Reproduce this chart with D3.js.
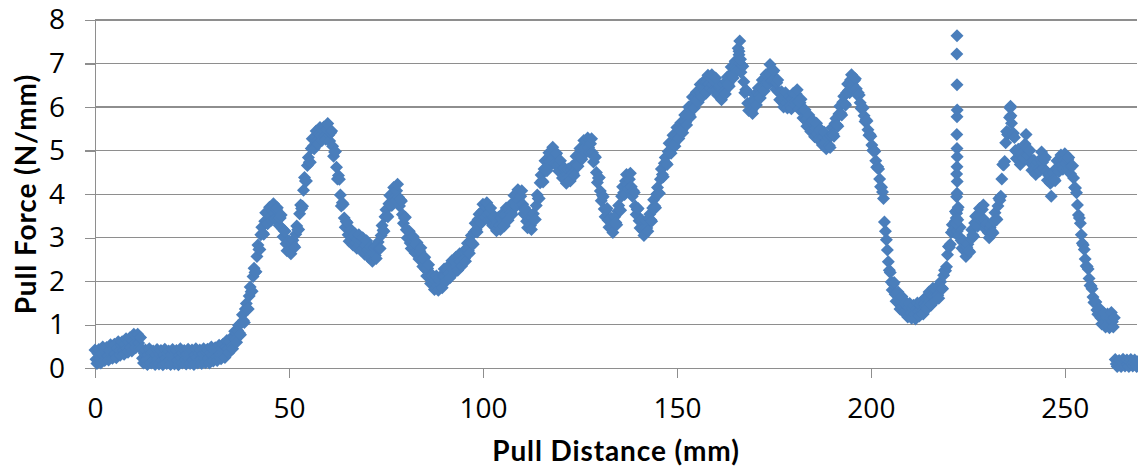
<!DOCTYPE html>
<html>
<head>
<meta charset="utf-8">
<script src="https://cdn.jsdelivr.net/npm/d3@7"></script>
<style>
  html, body { margin: 0; padding: 0; background: #fff; }
  svg { display: block; }
</style>
</head>
<body>
<svg id="chart" width="1138" height="472"></svg>
<script>
// Peel test: pull force per unit width against pull distance.
// Logger samples every 0.25 mm, starting at 0 mm (16 readings per row = 4 mm).
const sampleStartMm = 0;
const sampleStepMm = 0.25;
const pullForce = [
  0.42, 0.21, 0.11, 0.34, 0.43, 0.21, 0.12, 0.34, 0.49, 0.29, 0.18, 0.41, 0.48, 0.28, 0.19, 0.41,
  0.54, 0.33, 0.23, 0.46, 0.55, 0.33, 0.24, 0.46, 0.61, 0.41, 0.30, 0.54, 0.61, 0.41, 0.32, 0.55,
  0.68, 0.47, 0.37, 0.61, 0.70, 0.48, 0.40, 0.63, 0.78, 0.58, 0.47, 0.71, 0.78, 0.58, 0.48, 0.71,
  0.45, 0.23, 0.12, 0.34, 0.42, 0.19, 0.09, 0.31, 0.45, 0.24, 0.12, 0.35, 0.40, 0.19, 0.09, 0.31,
  0.43, 0.21, 0.10, 0.33, 0.41, 0.18, 0.08, 0.30, 0.44, 0.23, 0.11, 0.34, 0.40, 0.19, 0.09, 0.31,
  0.43, 0.21, 0.10, 0.33, 0.41, 0.18, 0.08, 0.30, 0.45, 0.24, 0.12, 0.35, 0.41, 0.20, 0.10, 0.32,
  0.44, 0.22, 0.11, 0.34, 0.42, 0.19, 0.09, 0.31, 0.45, 0.24, 0.12, 0.35, 0.42, 0.21, 0.11, 0.33,
  0.45, 0.23, 0.13, 0.36, 0.44, 0.22, 0.12, 0.35, 0.49, 0.29, 0.17, 0.41, 0.47, 0.27, 0.18, 0.40,
  0.53, 0.32, 0.22, 0.46, 0.55, 0.34, 0.25, 0.49, 0.64, 0.45, 0.36, 0.61, 0.69, 0.51, 0.45, 0.70,
  0.85, 0.67, 0.60, 0.87, 0.99, 0.81, 0.77, 1.04, 1.23, 1.10, 1.05, 1.36, 1.49, 1.37, 1.36, 1.66,
  1.87, 1.76, 1.77, 2.11, 2.30, 2.20, 2.22, 2.57, 2.83, 2.73, 2.73, 3.07, 3.24, 3.11, 3.08, 3.38,
  3.57, 3.39, 3.32, 3.58, 3.70, 3.48, 3.40, 3.63, 3.78, 3.56, 3.43, 3.64, 3.69, 3.43, 3.28, 3.45,
  3.52, 3.21, 3.02, 3.16, 3.15, 2.86, 2.70, 2.85, 2.93, 2.73, 2.63, 2.87, 2.94, 2.81, 2.78, 3.08,
  3.27, 3.18, 3.19, 3.55, 3.75, 3.67, 3.72, 4.09, 4.38, 4.30, 4.30, 4.66, 4.84, 4.73, 4.73, 5.05,
  5.27, 5.10, 5.04, 5.32, 5.45, 5.23, 5.15, 5.38, 5.53, 5.33, 5.23, 5.47, 5.54, 5.34, 5.26, 5.49,
  5.62, 5.36, 5.22, 5.41, 5.45, 5.10, 4.87, 4.97, 4.98, 4.62, 4.35, 4.43, 4.34, 3.98, 3.73, 3.80,
  3.77, 3.45, 3.24, 3.37, 3.35, 3.07, 2.92, 3.09, 3.18, 2.96, 2.83, 3.04, 3.09, 2.87, 2.76, 2.96,
  3.07, 2.84, 2.72, 2.93, 3.00, 2.75, 2.62, 2.82, 2.93, 2.70, 2.55, 2.76, 2.79, 2.57, 2.46, 2.66,
  2.77, 2.59, 2.52, 2.78, 2.90, 2.76, 2.75, 3.05, 3.28, 3.17, 3.15, 3.48, 3.64, 3.51, 3.48, 3.78,
  3.97, 3.80, 3.74, 4.02, 4.15, 3.93, 3.85, 4.08, 4.23, 3.93, 3.73, 3.87, 3.84, 3.53, 3.33, 3.45,
  3.47, 3.18, 2.99, 3.15, 3.15, 2.88, 2.75, 2.93, 3.03, 2.80, 2.65, 2.86, 2.89, 2.64, 2.51, 2.69,
  2.77, 2.50, 2.34, 2.52, 2.55, 2.27, 2.12, 2.29, 2.38, 2.12, 1.95, 2.13, 2.14, 1.92, 1.81, 2.01,
  2.12, 1.90, 1.79, 2.02, 2.10, 1.91, 1.85, 2.10, 2.28, 2.10, 2.00, 2.26, 2.34, 2.16, 2.08, 2.33,
  2.47, 2.28, 2.19, 2.45, 2.55, 2.33, 2.25, 2.48, 2.63, 2.45, 2.35, 2.61, 2.69, 2.52, 2.46, 2.71,
  2.87, 2.70, 2.64, 2.92, 3.05, 2.88, 2.85, 3.13, 3.33, 3.18, 3.13, 3.42, 3.54, 3.38, 3.33, 3.60,
  3.77, 3.56, 3.47, 3.71, 3.80, 3.53, 3.40, 3.58, 3.68, 3.43, 3.28, 3.47, 3.49, 3.27, 3.16, 3.36,
  3.47, 3.28, 3.19, 3.45, 3.55, 3.35, 3.27, 3.52, 3.68, 3.50, 3.40, 3.66, 3.74, 3.58, 3.53, 3.80,
  3.97, 3.79, 3.72, 3.98, 4.10, 3.86, 3.75, 3.95, 4.08, 3.77, 3.55, 3.68, 3.64, 3.38, 3.23, 3.40,
  3.47, 3.28, 3.19, 3.45, 3.55, 3.42, 3.42, 3.74, 3.98, 3.90, 3.90, 4.26, 4.44, 4.31, 4.28, 4.58,
  4.77, 4.60, 4.54, 4.82, 4.95, 4.75, 4.67, 4.92, 5.08, 4.85, 4.70, 4.91, 4.94, 4.68, 4.53, 4.70,
  4.77, 4.51, 4.37, 4.56, 4.60, 4.36, 4.25, 4.45, 4.58, 4.40, 4.30, 4.56, 4.64, 4.48, 4.43, 4.70,
  4.87, 4.70, 4.64, 4.92, 5.05, 4.86, 4.80, 5.05, 5.23, 5.05, 4.95, 5.21, 5.29, 5.07, 4.96, 5.16,
  5.27, 4.95, 4.74, 4.87, 4.85, 4.50, 4.27, 4.37, 4.38, 4.07, 3.85, 3.98, 3.94, 3.66, 3.48, 3.63,
  3.67, 3.40, 3.24, 3.42, 3.45, 3.22, 3.12, 3.34, 3.48, 3.35, 3.30, 3.61, 3.74, 3.63, 3.63, 3.95,
  4.17, 4.03, 3.99, 4.30, 4.45, 4.22, 4.12, 4.34, 4.48, 4.17, 3.95, 4.08, 4.04, 3.73, 3.53, 3.65,
  3.67, 3.39, 3.22, 3.38, 3.40, 3.16, 3.05, 3.25, 3.38, 3.22, 3.15, 3.43, 3.54, 3.41, 3.38, 3.68,
  3.87, 3.73, 3.69, 4.00, 4.15, 4.02, 4.02, 4.34, 4.58, 4.45, 4.40, 4.71, 4.84, 4.71, 4.68, 4.98,
  5.17, 5.00, 4.94, 5.22, 5.35, 5.16, 5.10, 5.35, 5.53, 5.36, 5.28, 5.54, 5.64, 5.47, 5.41, 5.66,
  5.82, 5.65, 5.59, 5.87, 6.00, 5.82, 5.77, 6.04, 6.23, 6.06, 5.98, 6.24, 6.34, 6.17, 6.11, 6.36,
  6.52, 6.33, 6.24, 6.50, 6.60, 6.40, 6.32, 6.57, 6.73, 6.53, 6.43, 6.67, 6.74, 6.51, 6.38, 6.58,
  6.67, 6.41, 6.27, 6.46, 6.50, 6.27, 6.17, 6.39, 6.53, 6.37, 6.30, 6.58, 6.69, 6.53, 6.48, 6.75,
  6.92, 6.74, 6.67, 6.93, 7.05, 6.87, 6.82, 7.09, 7.28, 7.00, 6.80, 6.96, 6.94, 6.58, 6.33, 6.40,
  6.37, 6.09, 5.92, 6.08, 6.10, 5.91, 5.85, 6.10, 6.28, 6.12, 6.05, 6.33, 6.44, 6.27, 6.21, 6.46,
  6.62, 6.44, 6.37, 6.63, 6.75, 6.57, 6.52, 6.79, 6.98, 6.75, 6.60, 6.81, 6.84, 6.57, 6.41, 6.56,
  6.62, 6.34, 6.17, 6.33, 6.35, 6.11, 6.00, 6.20, 6.33, 6.11, 5.98, 6.19, 6.24, 6.04, 5.96, 6.19,
  6.32, 6.13, 6.04, 6.30, 6.40, 6.11, 5.95, 6.10, 6.18, 5.92, 5.75, 5.93, 5.94, 5.69, 5.56, 5.74,
  5.82, 5.58, 5.44, 5.65, 5.70, 5.45, 5.32, 5.52, 5.63, 5.40, 5.25, 5.46, 5.49, 5.26, 5.13, 5.33,
  5.42, 5.18, 5.04, 5.25, 5.30, 5.12, 5.07, 5.34, 5.53, 5.38, 5.33, 5.62, 5.74, 5.59, 5.56, 5.84,
  6.02, 5.86, 5.82, 6.11, 6.25, 6.08, 6.05, 6.33, 6.53, 6.38, 6.33, 6.62, 6.74, 6.52, 6.41, 6.61,
  6.65, 6.42, 6.28, 6.33, 6.28, 6.10, 5.97, 6.01, 5.98, 5.80, 5.67, 5.71, 5.68, 5.48, 5.35, 5.37,
  5.33, 5.13, 5.00, 5.02, 4.98, 4.77, 4.62, 4.63, 4.58, 4.35, 4.17, 4.16, 4.05, 3.90, 3.36, 3.15,
  2.95, 2.72, 2.45, 2.25, 2.20, 1.98, 1.80, 1.93, 1.97, 1.70, 1.54, 1.72, 1.75, 1.49, 1.36, 1.54,
  1.65, 1.42, 1.28, 1.48, 1.52, 1.30, 1.18, 1.39, 1.49, 1.27, 1.15, 1.38, 1.45, 1.23, 1.13, 1.36,
  1.50, 1.31, 1.20, 1.45, 1.52, 1.33, 1.25, 1.48, 1.62, 1.44, 1.37, 1.63, 1.75, 1.54, 1.45, 1.69,
  1.84, 1.65, 1.55, 1.79, 1.87, 1.68, 1.61, 1.85, 1.99, 1.85, 1.83, 2.14, 2.25, 2.24, 2.33, 2.61,
  2.80, 2.78, 2.85, 3.12, 3.30, 3.18, 3.12, 3.38, 3.45, 3.15, 3.05, 3.22, 3.24, 2.94, 2.76, 2.89,
  2.92, 2.69, 2.57, 2.78, 2.85, 2.70, 2.67, 2.97, 3.18, 3.06, 3.03, 3.34, 3.49, 3.32, 3.26, 3.51,
  3.67, 3.48, 3.39, 3.65, 3.75, 3.41, 3.20, 3.30, 3.33, 3.12, 3.00, 3.23, 3.29, 3.14, 3.11, 3.39,
  3.57, 3.44, 3.42, 3.73, 3.90, 3.86, 3.95, 4.35, 4.68, 4.67, 4.75, 5.18, 5.44, 5.37, 5.41, 5.76,
  6.02, 5.63, 5.34, 5.40, 5.30, 5.00, 4.82, 4.97, 5.03, 4.81, 4.68, 4.89, 4.94, 4.83, 4.83, 5.15,
  5.37, 5.06, 4.87, 5.01, 5.00, 4.71, 4.55, 4.70, 4.78, 4.57, 4.45, 4.68, 4.74, 4.58, 4.53, 4.80,
  4.97, 4.73, 4.59, 4.80, 4.85, 4.52, 4.32, 4.44, 4.45, 4.25, 3.95, 4.30, 4.49, 4.34, 4.31, 4.59,
  4.77, 4.59, 4.52, 4.78, 4.90, 4.67, 4.57, 4.79, 4.93, 4.71, 4.58, 4.79, 4.84, 4.59, 4.46, 4.64,
  4.65, 4.37, 4.15, 4.14, 4.03, 3.75, 3.52, 3.45, 3.33, 3.07, 2.87, 2.83, 2.73, 2.51, 2.35, 2.34,
  2.28, 2.06, 1.90, 1.89, 1.83, 1.64, 1.51, 1.53, 1.52, 1.34, 1.24, 1.33, 1.37, 1.16, 1.02, 1.20,
  1.27, 1.05, 0.95, 1.17, 1.25, 1.02, 0.93, 1.14, 1.28, 1.07, 0.95, 1.16, 0.20, 0.10, 0.04, 0.15,
  0.18, 0.08, 0.04, 0.14, 0.21, 0.11, 0.05, 0.16, 0.19, 0.09, 0.04, 0.15, 0.20, 0.10, 0.05, 0.14,
  0.19, 0.09, 0.04, 0.15
];

// Extra readings logged while the force changed quickly (burst mode).
const burstDistance = [
  165.8, 166.0, 166.2, 166.4,
  221.8, 221.9, 222.1, 222.1, 222.1, 222.15, 222.15, 222.2, 222.2,
  222.2, 222.2, 222.2, 222.2, 222.25, 222.25, 222.25, 222.3, 222.4, 222.5,
  235.9, 236.1
];
const burstForce = [
  7.35, 7.20, 7.52, 7.10,
  3.60, 3.33, 4.46, 3.94, 3.56, 7.22, 5.37, 7.64, 6.51,
  5.78, 5.05, 4.63, 4.02, 5.93, 4.86, 4.29, 3.64, 3.41, 3.70,
  5.98, 5.80
];

const xTicks = [0, 50, 100, 150, 200, 250];
const yTicks = [0, 1, 2, 3, 4, 5, 6, 7, 8];
const xTitle = "Pull Distance (mm)";
const yTitle = "Pull Force (N/mm)";

const points = pullForce
  .map((f, i) => ({ x: sampleStartMm + i * sampleStepMm, y: f }))
  .concat(burstDistance.map((d, i) => ({ x: d, y: burstForce[i] })));

const W = 1138, H = 472;
const plot = { left: 95, right: 1137, top: 20, bottom: 368.3 };
const tickLen = 10;
const gridColor = "#8e8e8e";
const markerColor = "#4a7ebb";
const tickFont = "'Open Sans', 'DejaVu Sans', sans-serif";
const titleFont = "Lato, 'Open Sans', sans-serif";

const svg = d3.select("#chart");
svg.append("rect").attr("width", W).attr("height", H).attr("fill", "#fff");

const x = d3.scaleLinear().domain([0, 268.6]).range([plot.left, plot.right]);
const y = d3.scaleLinear().domain([0, 8]).range([plot.bottom, plot.top]);

// horizontal gridlines across the plot area
svg.append("g")
  .selectAll("line")
  .data(yTicks.filter(t => t !== 0))
  .join("line")
  .attr("x1", plot.left)
  .attr("x2", plot.right)
  .attr("y1", d => y(d))
  .attr("y2", d => y(d))
  .attr("stroke", gridColor)
  .attr("stroke-width", 1.3)
  .attr("shape-rendering", "crispEdges");

// value axis
const yAxis = svg.append("g")
  .attr("transform", `translate(${plot.left},0)`)
  .call(d3.axisLeft(y).tickValues(yTicks).tickSize(tickLen).tickSizeOuter(0).tickPadding(20));

// distance axis
const xAxis = svg.append("g")
  .attr("transform", `translate(0,${plot.bottom})`)
  .call(d3.axisBottom(x).tickValues(xTicks).tickSize(tickLen).tickSizeOuter(0).tickPadding(20));

[yAxis, xAxis].forEach(g => {
  g.selectAll("path, line")
    .attr("stroke", gridColor)
    .attr("stroke-width", 1.3)
    .attr("shape-rendering", "crispEdges");
  g.selectAll("text")
    .attr("fill", "#000")
    .style("font-family", tickFont)
    .style("font-size", "28px");
});

// readings as diamond markers (13 px across)
const diamond = d3.symbol().type(d3.symbolSquare).size(84.5);
svg.append("g")
  .selectAll("path")
  .data(points)
  .join("path")
  .attr("d", diamond)
  .attr("transform", d => `translate(${x(d.x)},${y(d.y)}) rotate(45)`)
  .attr("fill", markerColor);

// axis titles
const titleStyle = sel => sel
  .attr("text-anchor", "middle")
  .attr("fill", "#000")
  .style("font-family", titleFont)
  .style("font-weight", "bold")
  .style("font-size", "28px")
  .style("letter-spacing", "0.9px");

svg.append("text")
  .attr("x", (plot.left + plot.right) / 2)
  .attr("y", 461)
  .call(titleStyle)
  .text(xTitle);

svg.append("text")
  .attr("transform", `translate(35.5,${(plot.top + plot.bottom) / 2}) rotate(-90)`)
  .call(titleStyle)
  .text(yTitle);
</script>
</body>
</html>
